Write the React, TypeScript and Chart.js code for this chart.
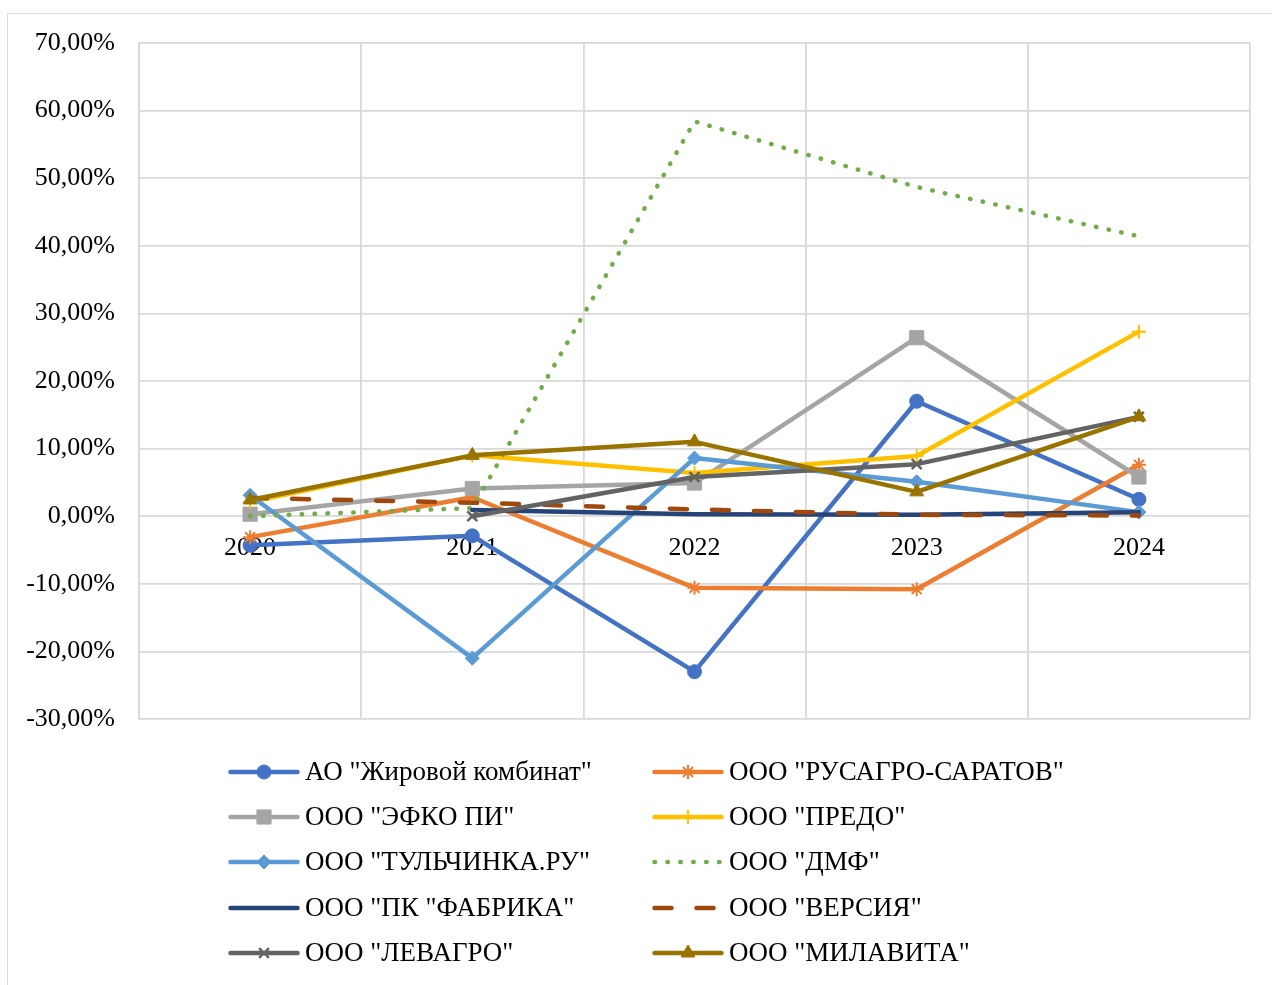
import React, { useEffect, useRef } from "react";
import { Chart, registerables } from "chart.js";
import { drawPoint } from "chart.js/helpers";

Chart.register(...registerables);

const categories = ["2020", "2021", "2022", "2023", "2024"];

const seriesNames = [
  'АО "Жировой комбинат"',
  'ООО "РУСАГРО-САРАТОВ"',
  'ООО "ЭФКО ПИ"',
  'ООО "ПРЕДО"',
  'ООО "ТУЛЬЧИНКА.РУ"',
  'ООО "ДМФ"',
  'ООО "ПК "ФАБРИКА"',
  'ООО "ВЕРСИЯ"',
  'ООО "ЛЕВАГРО"',
  'ООО "МИЛАВИТА"',
];

const zhirovoy = [-4.3, -2.9, -23.0, 17.0, 2.5];
const rusagro = [-3.1, 2.8, -10.6, -10.8, 7.6];
const efko = [0.3, 4.1, 4.9, 26.4, 5.8];
const predo = [2.1, 9.0, 6.4, 8.9, 27.3];
const tulchinka = [3.1, -21.0, 8.6, 5.1, 0.6];
const dmf = [0.0, 1.2, 58.4, 48.7, 41.4];
const fabrika = [null, 0.9, 0.3, 0.2, 0.6];
const versiya = [2.7, 2.0, 1.0, 0.2, 0.1];
const levagro = [null, 0.0, 5.8, 7.7, 14.7];
const milavita = [2.4, 9.0, 11.0, 3.6, 14.7];

const yMin = -30;
const yMax = 70;
const yStep = 10;

const colors = [
  "#4472C4",
  "#ED7D31",
  "#A5A5A5",
  "#FFC000",
  "#5B9BD5",
  "#70AD47",
  "#264478",
  "#9E480E",
  "#636363",
  "#997300",
];

const FONT = '"Liberation Serif", "Times New Roman", serif';

const LEGEND_COL_X = [228, 652];
const LEGEND_ROW_Y = [772, 817, 862, 908, 953];
const LEGEND_LINE_LEN = 72;

const legendPlugin = {
  id: "excelLegend",
  afterDraw(chart: any) {
    const ctx = chart.ctx;
    chart.data.datasets.forEach((ds: any, i: number) => {
      const col = i % 2;
      const row = Math.floor(i / 2);
      const x0 = LEGEND_COL_X[col];
      const y = LEGEND_ROW_Y[row];
      ctx.save();
      ctx.strokeStyle = ds.borderColor;
      ctx.lineWidth = ds.borderWidth;
      ctx.lineCap = ds.borderCapStyle || "round";
      ctx.setLineDash(ds.borderDash || []);
      ctx.beginPath();
      ctx.moveTo(x0 + 2.5, y);
      ctx.lineTo(x0 + LEGEND_LINE_LEN - 2.5, y);
      ctx.stroke();
      ctx.setLineDash([]);
      if (ds.pointRadius > 0) {
        ctx.fillStyle = ds.pointBackgroundColor;
        ctx.strokeStyle = ds.pointBorderColor;
        ctx.lineWidth = ds.pointBorderWidth;
        ctx.lineCap = "butt";
        drawPoint(
          ctx,
          {
            pointStyle: ds.pointStyle,
            radius: ds.pointRadius,
            borderWidth: ds.pointBorderWidth,
            rotation: 0,
          },
          x0 + LEGEND_LINE_LEN / 2,
          y
        );
      }
      ctx.fillStyle = "#000000";
      ctx.font = `27px ${FONT}`;
      ctx.textBaseline = "middle";
      ctx.textAlign = "left";
      ctx.fillText(ds.label, x0 + LEGEND_LINE_LEN + 5, y + 1);
      ctx.restore();
    });
  },
};

export default function App() {
  const canvasRef = useRef<HTMLCanvasElement | null>(null);

  useEffect(() => {
    const canvas = canvasRef.current;
    if (!canvas) return;

    const values = [zhirovoy, rusagro, efko, predo, tulchinka, dmf, fabrika, versiya, levagro, milavita];
    const pointStyles: any[] = ["circle", "star", "rect", "cross", "rectRot", false, false, false, "crossRot", "triangle"];
    const pointRadii = [7, 7, 10, 7, 7, 0, 0, 0, 7, 8];
    const pointBorderWidths = [1, 2, 1, 2, 1, 0, 0, 0, 2.5, 1];
    const dashes: number[][] = [[], [], [], [], [], [0.5, 12.4], [], [17, 25], [], []];

    const datasets = values.map((data, i) => ({
      label: seriesNames[i],
      data,
      borderColor: colors[i],
      backgroundColor: colors[i],
      borderWidth: 4.5,
      borderCapStyle: "round",
      borderJoinStyle: "round",
      borderDash: dashes[i],
      pointStyle: pointStyles[i] || "circle",
      pointRadius: pointRadii[i],
      pointHoverRadius: pointRadii[i],
      pointBackgroundColor: colors[i],
      pointBorderColor: colors[i],
      pointBorderWidth: pointBorderWidths[i],
      tension: 0,
      fill: false,
      spanGaps: false,
      order: values.length - i,
    }));

    const chart = new Chart(canvas, {
      type: "line",
      data: { labels: categories, datasets: datasets as any },
      options: {
        responsive: false,
        animation: false,
        events: [],
        layout: { padding: { left: 0, top: 43, right: 22, bottom: 266 } },
        plugins: {
          legend: { display: false },
          tooltip: { enabled: false },
          title: { display: false },
        },
        scales: {
          x: {
            type: "category",
            position: { y: 0 } as any,
            offset: true,
            grid: {
              offset: true,
              color: "#D9D9D9",
              lineWidth: 1.8,
              drawTicks: false,
            },
            border: { display: false },
            ticks: {
              color: "#000000",
              font: { family: FONT, size: 26 },
              padding: 16,
              maxRotation: 0,
              autoSkip: false,
            },
            afterFit(scale: any) {
              scale.height = 0;
            },
          },
          y: {
            type: "linear",
            min: yMin,
            max: yMax,
            grid: {
              color: "#D9D9D9",
              lineWidth: 1.8,
              drawTicks: false,
            },
            border: { display: true, color: "#D9D9D9", width: 1.8 },
            ticks: {
              stepSize: yStep,
              color: "#000000",
              font: { family: FONT, size: 26 },
              padding: 24,
              callback: (v: any) => `${Number(v).toFixed(2).replace(".", ",")}%`,
            },
            afterFit(scale: any) {
              scale.width = 139;
            },
          },
        },
      },
      plugins: [legendPlugin],
    });

    return () => {
      chart.destroy();
    };
  }, []);

  return (
    <div
      style={{
        position: "fixed",
        left: 0,
        top: 0,
        width: 1272,
        height: 985,
        overflow: "hidden",
        background: "#FFFFFF",
      }}
    >
      <div
        style={{
          position: "absolute",
          left: 7,
          top: 13,
          width: 1300,
          height: 1000,
          border: "1.5px solid #D9D9D9",
          boxSizing: "border-box",
        }}
      />
      <canvas
        ref={canvasRef}
        width={1272}
        height={985}
        style={{ position: "absolute", left: 0, top: 0, width: 1272, height: 985 }}
      />
    </div>
  );
}
